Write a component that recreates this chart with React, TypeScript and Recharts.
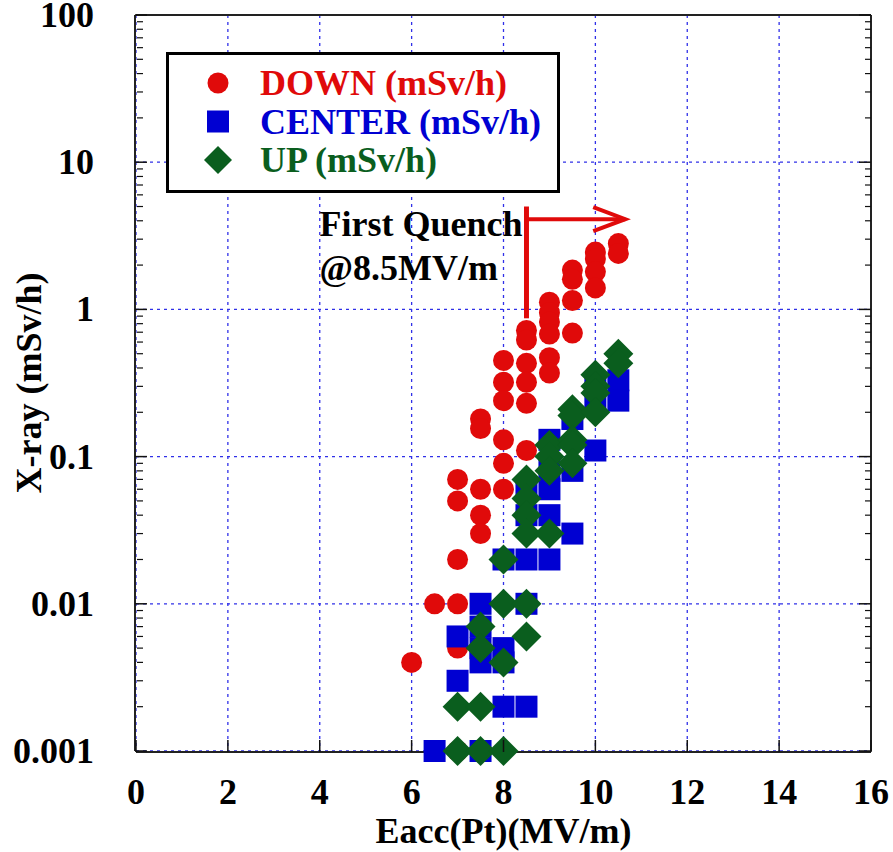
import {
  ScatterChart,
  Scatter,
  XAxis,
  YAxis,
  CartesianGrid,
  ReferenceLine,
  Legend,
  Label,
} from "recharts";

const FONT = '"Liberation Serif", "Times New Roman", serif';
const RED = "#e00a0a";
const BLUE = "#0000d2";
const GREEN = "#0a5e1e";
const INK = "#111";

// axis ticks
const eaccTicks = [0, 2, 4, 6, 8, 10, 12, 14, 16];
const eaccMinorTicks = [
  0.5, 1, 1.5, 2.5, 3, 3.5, 4.5, 5, 5.5, 6.5, 7, 7.5, 8.5, 9, 9.5, 10.5, 11,
  11.5, 12.5, 13, 13.5, 14.5, 15, 15.5,
];
const doseTicks = [0.001, 0.01, 0.1, 1, 10, 100];
const doseTickLabels = ["0.001", "0.01", "0.1", "1", "10", "100"];
const doseMinorTicks = doseTicks
  .slice(0, -1)
  .flatMap((d) => [2, 3, 4, 5, 6, 7, 8, 9].map((m) => m * d));

// dose readings (mSv/h) per Eacc step (MV/m)
const downDose: [number, number[]][] = [
  [6, [0.004]],
  [6.5, [0.01]],
  [7, [0.07, 0.05, 0.02, 0.01, 0.005, 0.003, 0.001]],
  [7.5, [0.18, 0.155, 0.06, 0.04, 0.03]],
  [8, [0.45, 0.32, 0.24, 0.13, 0.09, 0.06]],
  [8.5, [0.72, 0.62, 0.43, 0.32, 0.23, 0.11]],
  [9, [1.12, 0.95, 0.82, 0.68, 0.47, 0.37]],
  [9.5, [1.85, 1.6, 1.15, 0.69]],
  [10, [2.45, 2.2, 1.8, 1.4]],
  [10.5, [2.8, 2.4]],
];
const centerDose: [number, number[]][] = [
  [6.5, [0.001]],
  [7, [0.006, 0.003]],
  [7.5, [0.01, 0.007, 0.005, 0.004, 0.001]],
  [8, [0.02, 0.005, 0.004, 0.002]],
  [8.5, [0.06, 0.04, 0.02, 0.01, 0.002]],
  [9, [0.13, 0.08, 0.06, 0.04, 0.02]],
  [9.5, [0.18, 0.08, 0.03]],
  [10, [0.31, 0.23, 0.11]],
  [10.5, [0.33, 0.24]],
];
const upDose: [number, number[]][] = [
  [7, [0.002, 0.001]],
  [7.5, [0.007, 0.005, 0.002, 0.001]],
  [8, [0.02, 0.01, 0.004, 0.001]],
  [8.5, [0.07, 0.052, 0.04, 0.03, 0.01, 0.006]],
  [9, [0.12, 0.1, 0.08, 0.03]],
  [9.5, [0.21, 0.19, 0.13, 0.12, 0.09]],
  [10, [0.36, 0.3, 0.27, 0.2]],
  [10.5, [0.5, 0.43]],
];

// first quench marker
const quenchEacc = 8.5;
const quenchSpan = [5, 0.87];
const arrowDose = 4.1;
const arrowEnd = 10.65;

const toPoints = (rows: [number, number[]][]) =>
  rows.flatMap(([x, ys]) => ys.map((y) => ({ x, y })));

const labelFont = { fontFamily: FONT, fontSize: 36, fontWeight: 700 };

const renderCircle = (p: any) => (
  <circle cx={p.cx} cy={p.cy} r={10.5} fill={RED} />
);
const renderSquare = (p: any) => (
  <rect x={p.cx - 11} y={p.cy - 11} width={22} height={22} fill={BLUE} />
);
const renderDiamond = (p: any) => (
  <polygon
    points={`${p.cx},${p.cy - 15} ${p.cx + 15},${p.cy} ${p.cx},${p.cy + 15} ${p.cx - 15},${p.cy}`}
    fill={GREEN}
  />
);

// ticks point into the plot; minor axes sit 1px outside the main ones
const bottomTick = ({ x, y, payload }: any) => (
  <g>
    <line x1={x} y1={y} x2={x} y2={y - 12} stroke={INK} strokeWidth={1.5} />
    <text x={x} y={y + 52} textAnchor="middle" fill="#000" {...labelFont}>
      {payload.value}
    </text>
  </g>
);
const bottomMinorTick = ({ x, y }: any) => (
  <line x1={x} y1={y - 1} x2={x} y2={y - 7} stroke={INK} strokeWidth={1.2} />
);
const topTick = ({ x, y }: any) => (
  <line x1={x} y1={y} x2={x} y2={y + 12} stroke={INK} strokeWidth={1.5} />
);
const topMinorTick = ({ x, y }: any) => (
  <line x1={x} y1={y + 1} x2={x} y2={y + 7} stroke={INK} strokeWidth={1.2} />
);
const leftTick = ({ x, y, payload, index }: any) => (
  <g>
    <line x1={x} y1={y} x2={x + 12} y2={y} stroke={INK} strokeWidth={1.5} />
    <text x={x - 41} y={y + 12} textAnchor="end" fill="#000" {...labelFont}>
      {doseTickLabels[index] ?? payload.value}
    </text>
  </g>
);
const leftMinorTick = ({ x, y }: any) => (
  <line x1={x + 1} y1={y} x2={x + 7} y2={y} stroke={INK} strokeWidth={1.2} />
);
const rightTick = ({ x, y }: any) => (
  <line x1={x} y1={y} x2={x - 12} y2={y} stroke={INK} strokeWidth={1.5} />
);
const rightMinorTick = ({ x, y }: any) => (
  <line x1={x - 1} y1={y} x2={x - 7} y2={y} stroke={INK} strokeWidth={1.2} />
);

const QuenchLine = (p: any) => {
  const { x1, y1, x2, y2 } = p;
  const top = Math.min(y1, y2);
  return (
    <g>
      <line x1={x1} y1={y1} x2={x2} y2={y2} stroke={RED} strokeWidth={5} />
      <text x={x1 - 207} y={top + 29} fill="#000" {...labelFont}>
        First Quench
      </text>
      <text x={x1 - 207} y={top + 73} fill="#000" {...labelFont}>
        @8.5MV/m
      </text>
    </g>
  );
};

const QuenchArrow = (p: any) => {
  const { x1, y1, x2, y2 } = p;
  return (
    <g>
      <line x1={x1} y1={y1} x2={x2} y2={y2} stroke={RED} strokeWidth={4} />
      <polyline
        points={`${x2 - 32},${y2 - 12} ${x2},${y2} ${x2 - 32},${y2 + 12}`}
        fill="none"
        stroke={RED}
        strokeWidth={4}
      />
    </g>
  );
};

const legendRows = [
  { label: "DOWN (mSv/h)", color: RED, kind: "circle" },
  { label: "CENTER (mSv/h)", color: BLUE, kind: "square" },
  { label: "UP (mSv/h)", color: GREEN, kind: "diamond" },
];

const LegendBox = () => (
  <div
    style={{
      width: 394,
      height: 141,
      boxSizing: "border-box",
      border: "3px solid #000",
      background: "#fff",
    }}
  >
    <svg width={388} height={135} style={{ display: "block" }}>
      {legendRows.map((r, i) => {
        const cy = 28 + i * 38.5;
        const cx = 49;
        return (
          <g key={r.label}>
            {r.kind === "circle" && <circle cx={cx} cy={cy} r={10.5} fill={r.color} />}
            {r.kind === "square" && (
              <rect x={cx - 11} y={cy - 11} width={22} height={22} fill={r.color} />
            )}
            {r.kind === "diamond" && (
              <polygon
                points={`${cx},${cy - 14} ${cx + 14},${cy} ${cx},${cy + 14} ${cx - 14},${cy}`}
                fill={r.color}
              />
            )}
            <text x={91} y={cy + 12} fill={r.color} {...labelFont}>
              {r.label}
            </text>
          </g>
        );
      })}
    </svg>
  </div>
);

const renderYTitle = (props: any) => {
  const vb = props.viewBox || { x: 135, y: 15, width: 1, height: 736 };
  const cx = vb.x + vb.width - 106;
  const cy = vb.y + vb.height / 2;
  return (
    <text
      x={cx}
      y={cy}
      transform={`rotate(-90, ${cx}, ${cy})`}
      textAnchor="middle"
      dominantBaseline="central"
      fill="#000"
      {...labelFont}
    >
      X-ray (mSv/h)
    </text>
  );
};

export default function App() {
  const frame = { stroke: "#222", strokeWidth: 2 };
  return (
    <div
      style={{
        position: "absolute",
        left: 0,
        top: 0,
        width: 893,
        height: 852,
        background: "#fff",
      }}
    >
      <ScatterChart
        width={893}
        height={852}
        margin={{ top: 13, right: 20, bottom: 99, left: 134 }}
      >
        <CartesianGrid
          xAxisId="main"
          yAxisId="main"
          stroke="#3030e8"
          strokeDasharray="3 4"
          strokeWidth={1.3}
        />
        <XAxis
          xAxisId="main"
          type="number"
          dataKey="x"
          domain={[0, 16]}
          ticks={eaccTicks}
          interval={0}
          height={1}
          tickSize={0}
          tickMargin={0}
          tickLine={false}
          axisLine={frame}
          tick={bottomTick}
        >
          <Label
            value="Eacc(Pt)(MV/m)"
            position="bottom"
            offset={64}
            fill="#000"
            {...labelFont}
          />
        </XAxis>
        <XAxis
          xAxisId="bottomMinor"
          type="number"
          domain={[0, 16]}
          ticks={eaccMinorTicks}
          interval={0}
          allowDataOverflow
          height={1}
          tickSize={0}
          tickMargin={0}
          tickLine={false}
          axisLine={false}
          tick={bottomMinorTick}
        />
        <XAxis
          xAxisId="top"
          orientation="top"
          type="number"
          domain={[0, 16]}
          ticks={eaccTicks}
          interval={0}
          allowDataOverflow
          height={1}
          tickSize={0}
          tickMargin={0}
          tickLine={false}
          axisLine={frame}
          tick={topTick}
        />
        <XAxis
          xAxisId="topMinor"
          orientation="top"
          type="number"
          domain={[0, 16]}
          ticks={eaccMinorTicks}
          interval={0}
          allowDataOverflow
          height={1}
          tickSize={0}
          tickMargin={0}
          tickLine={false}
          axisLine={false}
          tick={topMinorTick}
        />
        <YAxis
          yAxisId="main"
          type="number"
          dataKey="y"
          scale="log"
          domain={[0.001, 100]}
          ticks={doseTicks}
          interval={0}
          width={1}
          tickSize={0}
          tickMargin={0}
          tickLine={false}
          axisLine={frame}
          tick={leftTick}
        >
          <Label content={renderYTitle} />
        </YAxis>
        <YAxis
          yAxisId="leftMinor"
          type="number"
          scale="log"
          domain={[0.001, 100]}
          ticks={doseMinorTicks}
          interval={0}
          allowDataOverflow
          width={1}
          tickSize={0}
          tickMargin={0}
          tickLine={false}
          axisLine={false}
          tick={leftMinorTick}
        />
        <YAxis
          yAxisId="right"
          orientation="right"
          type="number"
          scale="log"
          domain={[0.001, 100]}
          ticks={doseTicks}
          interval={0}
          allowDataOverflow
          width={1}
          tickSize={0}
          tickMargin={0}
          tickLine={false}
          axisLine={frame}
          tick={rightTick}
        />
        <YAxis
          yAxisId="rightMinor"
          orientation="right"
          type="number"
          scale="log"
          domain={[0.001, 100]}
          ticks={doseMinorTicks}
          interval={0}
          allowDataOverflow
          width={1}
          tickSize={0}
          tickMargin={0}
          tickLine={false}
          axisLine={false}
          tick={rightMinorTick}
        />
        <Legend
          layout="horizontal"
          verticalAlign="middle"
          align="center"
          content={LegendBox}
          wrapperStyle={{ left: 166, top: 52, width: 394, height: 141 }}
        />
        <Scatter
          name="DOWN (mSv/h)"
          xAxisId="main"
          yAxisId="main"
          data={toPoints(downDose)}
          shape={renderCircle}
          isAnimationActive={false}
        />
        <Scatter
          name="CENTER (mSv/h)"
          xAxisId="main"
          yAxisId="main"
          data={toPoints(centerDose)}
          shape={renderSquare}
          isAnimationActive={false}
        />
        <Scatter
          name="UP (mSv/h)"
          xAxisId="main"
          yAxisId="main"
          data={toPoints(upDose)}
          shape={renderDiamond}
          isAnimationActive={false}
        />
        <ReferenceLine
          xAxisId="main"
          yAxisId="main"
          segment={[
            { x: quenchEacc, y: quenchSpan[0] },
            { x: quenchEacc, y: quenchSpan[1] },
          ]}
          shape={QuenchLine}
        />
        <ReferenceLine
          xAxisId="main"
          yAxisId="main"
          segment={[
            { x: quenchEacc, y: arrowDose },
            { x: arrowEnd, y: arrowDose },
          ]}
          shape={QuenchArrow}
        />
      </ScatterChart>
    </div>
  );
}
